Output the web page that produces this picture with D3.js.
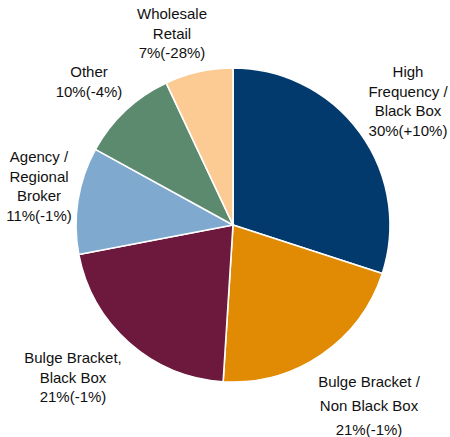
<!DOCTYPE html>
<html>
<head>
<meta charset="utf-8">
<script src="https://cdn.jsdelivr.net/npm/d3@7/dist/d3.min.js"></script>
<style>
  html, body { margin: 0; padding: 0; background: #fff; }
  svg { display: block; }
  text { font-family: "Liberation Sans", Arial, Helvetica, sans-serif; fill: #111; }
</style>
</head>
<body>
<svg id="chart" width="450" height="437"></svg>
<script>
// Market share by participant type, with year-over-year change
const segments = [
  ["High", "Frequency /", "Black Box"],
  ["Bulge Bracket /", "Non Black Box"],
  ["Bulge Bracket,", "Black Box"],
  ["Agency /", "Regional", "Broker"],
  ["Other"],
  ["Wholesale", "Retail"]
];
const shares = [30, 21, 21, 11, 10, 7];
const changes = ["+10%", "-1%", "-1%", "-1%", "-4%", "-28%"];
const colors = ["#023a6d", "#e08b03", "#6c193d", "#80a9d0", "#5b8a6f", "#fccb93"];

// Label anchors (center x, first baseline y, line step)
const labelLayout = [
  { x: 408, y: 77, step: 19.6 },
  { x: 369, y: 387, step: 24 },
  { x: 73, y: 363, step: 19.6 },
  { x: 39, y: 162, step: 19.6 },
  { x: 89, y: 77, step: 20 },
  { x: 172, y: 19, step: 19.6 }
];

const cx = 233, cy = 225, radius = 157;
const svg = d3.select("#chart");
const g = svg.append("g").attr("transform", `translate(${cx},${cy})`);

const pie = d3.pie().sort(null).value(d => d.share);
const arc = d3.arc().innerRadius(0).outerRadius(radius);

const data = shares.map((s, i) => ({ share: s, name: segments[i], change: changes[i], color: colors[i] }));

g.selectAll("path")
  .data(pie(data))
  .join("path")
  .attr("d", arc)
  .attr("fill", d => d.data.color)
  .attr("stroke", "#fff")
  .attr("stroke-width", 1.6)
  .attr("stroke-linejoin", "round");

const labels = svg.append("g");
data.forEach((d, i) => {
  const L = labelLayout[i];
  const lines = d.name.concat([`${d.share}%(${d.change})`]);
  const t = labels.append("text")
    .attr("text-anchor", "middle")
    .attr("font-size", 15);
  lines.forEach((ln, j) => {
    t.append("tspan").attr("x", L.x).attr("y", L.y + j * L.step).text(ln);
  });
});
</script>
</body>
</html>
